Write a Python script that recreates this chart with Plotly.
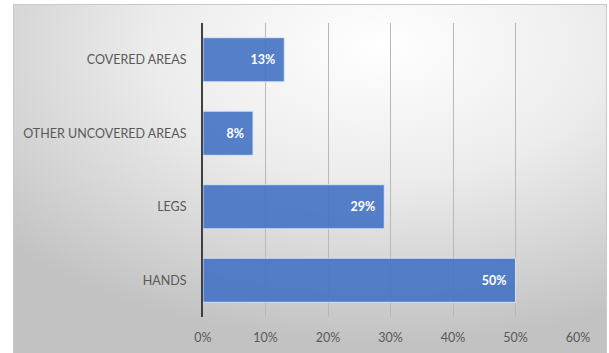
import base64
import plotly.graph_objects as go

categories = ["COVERED AREAS", "OTHER UNCOVERED AREAS", "LEGS", "HANDS"]
values = [0.13, 0.08, 0.29, 0.50]
x_ticks = [0, 0.1, 0.2, 0.3, 0.4, 0.5, 0.6]
x_tick_labels = ["0%", "10%", "20%", "30%", "40%", "50%", "60%"]

W, H = 609, 353
L, R, T, B = 203, 31, 23, 36
pw, ph = W - L - R, H - T - B

def px_x(p):
    return (p - L) / pw

def px_y(p):
    return (H - B - p) / ph

svg = """<svg xmlns='http://www.w3.org/2000/svg' width='594' height='350' viewBox='0 0 594 350' preserveAspectRatio='none'>
<defs><radialGradient id='g' cx='0.62' cy='0.12' r='0.85' fx='0.62' fy='0.12'>
<stop offset='0' stop-color='#ffffff'/><stop offset='0.45' stop-color='#ececec'/><stop offset='1' stop-color='#c2c2c2'/>
</radialGradient></defs><rect x='0' y='0' width='594' height='350' fill='url(#g)'/></svg>"""
src = "data:image/svg+xml;base64," + base64.b64encode(svg.encode()).decode()

fig = go.Figure()
fig.add_trace(go.Bar(
    y=categories, x=values, orientation="h",
    marker=dict(color="rgba(68,114,196,0.9)", line=dict(color="rgba(220,232,248,0.9)", width=1)),
    text=[f"{round(v*100)}%\u00a0\u00a0" for v in values],
    textposition="inside", insidetextanchor="end",
    textfont=dict(family="Lato", size=12.5, color="white", weight="bold"),
    hoverinfo="skip", width=0.6,
))

fig.update_layout(
    width=W, height=H,
    margin=dict(l=L, r=R, t=T, b=B, autoexpand=False),
    paper_bgcolor="white", plot_bgcolor="rgba(0,0,0,0)",
    showlegend=False,
    font=dict(family="Lato", color="#595959", size=12.5),
    images=[dict(source=src, xref="paper", yref="paper",
                 x=px_x(13), y=px_y(4), sizex=px_x(607) - px_x(13), sizey=px_y(4) - px_y(354),
                 xanchor="left", yanchor="top", sizing="stretch", layer="below")],
    shapes=[dict(type="rect", xref="paper", yref="paper",
                 x0=px_x(13.5), x1=px_x(606.5), y0=px_y(4.5), y1=px_y(360),
                 line=dict(color="#c9c9c9", width=1), layer="below")],
    xaxis=dict(range=[0, 0.6], tickvals=x_ticks, ticktext=x_tick_labels,
               showgrid=True, gridcolor="#b8b8b8", gridwidth=1, zeroline=False,
               showline=False, ticks="", ticklabelstandoff=11, automargin=False,
               tickfont=dict(size=12.5, color="#595959")),
    yaxis=dict(autorange="reversed", showgrid=False, showline=True,
               linecolor="#404040", linewidth=2, ticks="", ticklabelstandoff=12,
               automargin=False, tickfont=dict(size=12.5, color="#595959")),
    bargap=0.4,
)

fig.write_html("out.html", config={"displayModeBar": False},
               post_script="document.body.style.margin='0';document.body.style.overflow='hidden';")
